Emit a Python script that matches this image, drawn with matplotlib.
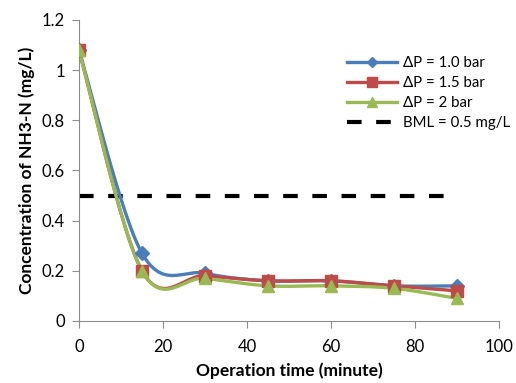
import matplotlib

matplotlib.use("Agg")
import matplotlib.pyplot as plt
from matplotlib.lines import Line2D
import numpy as np

plt.rcParams["font.family"] = ["Lato", "DejaVu Sans"]

time_min = [0, 15, 30, 45, 60, 75, 90]
dp_10 = [1.08, 0.27, 0.19, 0.16, 0.16, 0.14, 0.14]
dp_15 = [1.08, 0.20, 0.18, 0.16, 0.16, 0.14, 0.12]
dp_20 = [1.08, 0.20, 0.17, 0.14, 0.14, 0.13, 0.09]
bml = 0.5

series = [
    ("ΔP = 1.0 bar", dp_10, "#4a7ebb", "D", 7),
    ("ΔP = 1.5 bar", dp_15, "#be4b48", "s", 8.5),
    ("ΔP = 2 bar", dp_20, "#98b954", "^", 9),
]


def smooth(x, y, n=30):
    # bezier-spline like the excel "smoothed line"
    x = np.asarray(x, float)
    y = np.asarray(y, float)
    px = np.concatenate([[x[0]], x, [x[-1]]])
    py = np.concatenate([[y[0]], y, [y[-1]]])
    t = np.linspace(0, 1, n)
    xs, ys = [], []
    for i in range(1, len(px) - 2):
        p0 = np.array([px[i], py[i]])
        p3 = np.array([px[i + 1], py[i + 1]])
        c1 = p0 + (np.array([px[i + 1], py[i + 1]]) - np.array([px[i - 1], py[i - 1]])) / 6
        c2 = p3 - (np.array([px[i + 2], py[i + 2]]) - np.array([px[i], py[i]])) / 6
        b = ((1 - t) ** 3)[:, None] * p0 + (3 * (1 - t) ** 2 * t)[:, None] * c1 \
            + (3 * (1 - t) * t ** 2)[:, None] * c2 + (t ** 3)[:, None] * p3
        xs.append(b[:, 0])
        ys.append(b[:, 1])
    return np.concatenate(xs), np.concatenate(ys)


fig = plt.figure(figsize=(5.16, 3.83), dpi=100)
ax = fig.add_axes([0.153, 0.162, 0.814, 0.786])

handles = []
for label, vals, color, marker, ms in series:
    sx, sy = smooth(time_min, vals)
    ax.plot(sx, sy, color=color, lw=2.4, zorder=3)
    ax.plot(time_min, vals, linestyle="none", marker=marker, ms=ms, color=color, zorder=4)
    handles.append(Line2D([], [], color=color, lw=2.4, marker=marker, ms=ms - 1.5, label=label))

ax.plot([0, 90], [bml, bml], color="black", lw=3, dashes=(3.5, 3.5), zorder=2)
handles.append(Line2D([], [], color="black", lw=3, dashes=(3.5, 3.5), label="BML = 0.5 mg/L"))

ax.set_xlim(0, 100)
ax.set_ylim(0, 1.2)
ax.set_xticks(np.arange(0, 101, 20))
ax.set_yticks(np.arange(0, 1.21, 0.2))
ax.set_yticklabels(["0", "0.2", "0.4", "0.6", "0.8", "1", "1.2"])
for s in ["top", "right"]:
    ax.spines[s].set_visible(False)
for s in ["left", "bottom"]:
    ax.spines[s].set_color("#8c8c8c")
ax.tick_params(direction="out", length=5, color="#8c8c8c", labelsize=12)
ax.tick_params(axis="x", pad=8)
ax.tick_params(axis="y", pad=5)
ax.set_xlabel("Operation time (minute)", fontsize=12.5, fontweight="bold", labelpad=5)
ax.set_ylabel("Concentration of NH3-N (mg/L)", fontsize=12.5, fontweight="bold", labelpad=5)

ax.legend(handles=handles, loc="upper left", bbox_to_anchor=(0.624, 0.90), frameon=False,
          fontsize=10.8, handlelength=3.3, labelspacing=0.4, handletextpad=0.4,
          borderaxespad=0)

fig.savefig("out.png", dpi=100)
